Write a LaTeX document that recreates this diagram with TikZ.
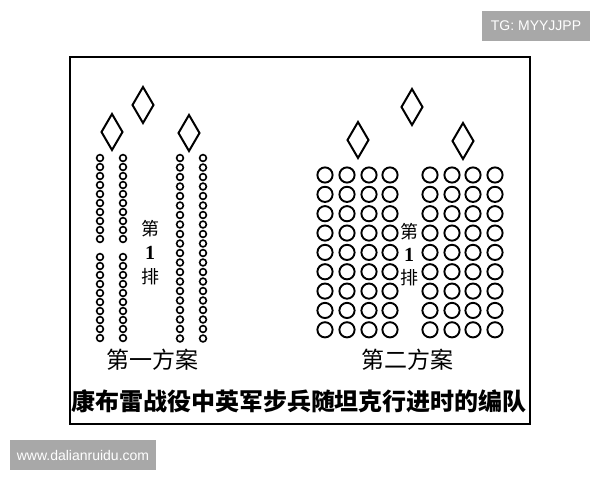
\documentclass[tikz,border=0pt]{standalone}
\usepackage{fontspec}
\newfontfamily\cjk{Noto Sans CJK SC}
\newfontfamily\wmfont{Liberation Sans}
\newfontfamily\digitfont{Liberation Serif}
\definecolor{wmgray}{HTML}{A8A8A8}
\begin{document}
\begin{tikzpicture}[x=1pt,y=-1pt,
  frameline/.style={line width=2.4pt},
  tank/.style={line width=2pt, line join=miter},
  smallman/.style={line width=1.6pt},
  bigman/.style={line width=1.9pt},
  label/.style={inner sep=0pt, font=\cjk\fontsize{23}{23}\selectfont},
  rowlabel/.style={inner sep=0pt, font=\cjk\fontsize{18}{18}\selectfont},
  digit/.style={inner sep=0pt, font=\digitfont\bfseries\fontsize{20}{20}\selectfont},
  caption/.style={inner sep=0pt, font=\cjk\bfseries\fontsize{24}{24}\selectfont},
  wmbox/.style={fill=wmgray, inner sep=0pt, text=white, font=\wmfont\fontsize{14}{14}\selectfont}
]
\useasboundingbox (0,0) rectangle (600,480);
% frame
\draw[frameline] (70,57) -- (530,57) -- (530,424) -- (70,424) -- cycle;
% diamonds (tanks)
\foreach \cx/\cy in {143/105, 112/132, 189/133, 412/107, 358/140, 463/141}{
  \draw[tank] (\cx,\cy-18) -- (\cx+10.5,\cy) -- (\cx,\cy+18) -- (\cx-10.5,\cy) -- cycle;
}
% plan 1 columns
\foreach \x in {100,123}{
  \foreach \i in {0,...,20}{
    \ifnum\i=10\else
      \draw[smallman] (\x,158+9*\i) circle (3.4);
    \fi
  }
}
\foreach \x in {180,203}{
  \foreach \i in {0,...,19}{
    \draw[smallman] (\x,158+9.5*\i) circle (3.4);
  }
}
% plan 2 grid
\foreach \x in {325,347,369,390,430,452,473,495}{
  \foreach \j in {0,...,8}{
    \draw[bigman] (\x,175+19.35*\j) circle (7.6);
  }
}
% row labels
\node[rowlabel] (a1) at (150,229) {第};
\node[digit] (a2) at (150,253) {1};
\node[rowlabel] (a3) at (150,277) {排};
\node[rowlabel] (b1) at (409,232) {第};
\node[digit] (b2) at (409,255) {1};
\node[rowlabel] (b3) at (409,278) {排};
% plan titles
\node[label] (p1) at (152,360) {第一方案};
\node[label] (p2) at (407,360) {第二方案};
% caption
\node[caption] (cap) at (299,401) {康布雷战役中英军步兵随坦克行进时的编队};
% watermarks
\node[wmbox, minimum width=108pt, minimum height=30pt] (wm1) at (536,26) {TG: MYYJJPP};
\node[wmbox, minimum width=146pt, minimum height=30pt] (wm2) at (83,455) {www.dalianruidu.com};
\end{tikzpicture}
\end{document}
